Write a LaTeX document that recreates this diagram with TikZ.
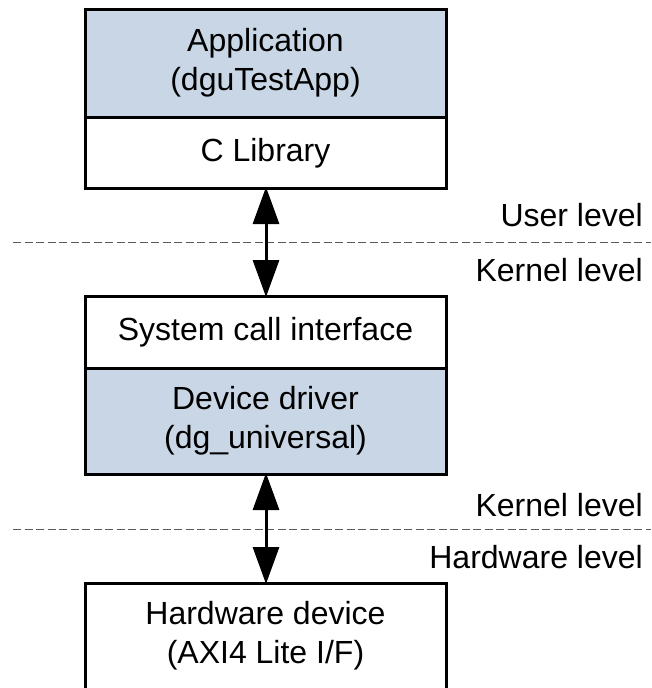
\documentclass[tikz,border=0pt]{standalone}
\usepackage{fontspec}
\setmainfont{Liberation Sans}
\usetikzlibrary{arrows.meta}
\definecolor{boxblue}{RGB}{201,214,229}
\definecolor{dashgray}{RGB}{90,90,90}
\tikzset{
  lbl/.style={font=\fontsize{32}{39}\selectfont, align=center, inner sep=0pt},
  lvl/.style={font=\fontsize{32}{39}\selectfont, anchor=base east, inner sep=0pt},
  frame/.style={line width=3pt},
  sep/.style={dashed, dash pattern=on 8pt off 3.5pt, draw=dashgray, line width=1pt},
  biarrow/.style={line width=3pt, {Triangle[length=37pt,width=26pt]}-{Triangle[length=37pt,width=26pt]}, shorten <=-1pt, shorten >=-1pt}
}
\begin{document}
\begin{tikzpicture}[x=1pt,y=-1pt]
\useasboundingbox (0,0) rectangle (651,688);
\clip (0,0) rectangle (651,688);
% top stack
\fill[boxblue] (85,9) rectangle (446,117);
\draw[frame] (85,9) rectangle (446,188);
\draw[frame] (85,117) -- (446,117);
\coordinate (topB) at (266,188);
% middle stack
\fill[boxblue] (85,368) rectangle (446,474);
\draw[frame] (85,296) rectangle (446,474);
\draw[frame] (85,368) -- (446,368);
\coordinate (midT) at (266,296);
\coordinate (midB) at (266,474);
% bottom box (cut off)
\draw[frame] (85,720) -- (85,583) -- (446,583) -- (446,720);
\coordinate (botT) at (266,583);
% texts
\node[lbl] (app) at (265.5,63) {Application\\(dguTestApp)};
\node[lbl] (clib) at (265.5,153) {C Library};
\node[lbl] (sci) at (265.5,332) {System call interface};
\node[lbl] (dd) at (265.5,421) {Device driver\\(dg\_universal)};
\node[lbl] (hw) at (265.5,636) {Hardware device\\(AXI4 Lite I/F)};
% dashed level separators
\coordinate (d1a) at (13,242);
\coordinate (d1b) at (651,242);
\coordinate (d2a) at (13,529);
\coordinate (d2b) at (651,529);
\draw[sep] (d1a) -- (d1b);
\draw[sep] (d2a) -- (d2b);
% level labels
\node[lvl] (ul) at (643,226) {User level};
\node[lvl] (kl1) at (643,281) {Kernel level};
\node[lvl] (kl2) at (643,516) {Kernel level};
\node[lvl] (hl) at (643,568) {Hardware level};
% arrows
\draw[biarrow] (topB) -- (midT);
\draw[biarrow] (midB) -- (botT);
\end{tikzpicture}
\end{document}
